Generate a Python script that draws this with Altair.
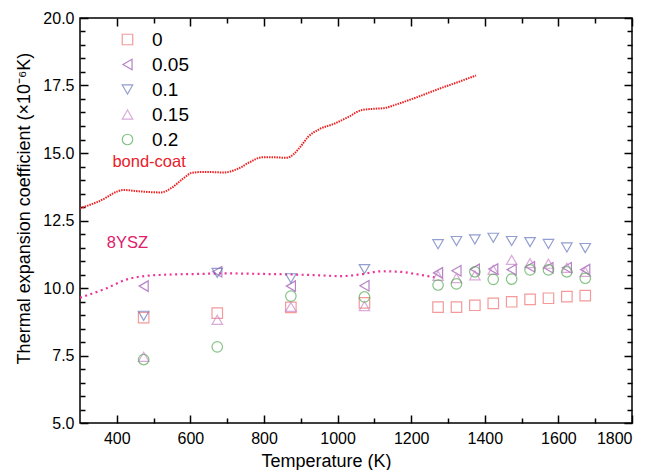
import altair as alt
import pandas as pd

# ---- data ----
temps = [473, 673, 873, 1073, 1273, 1323, 1373, 1423, 1473, 1523, 1573, 1623, 1673]
cte_0    = [8.90, 9.07, 9.28, 9.45, 9.29, 9.29, 9.36, 9.43, 9.49, 9.58, 9.62, 9.68, 9.72]
cte_005  = [10.07, 10.60, 10.07, 10.08, 10.56, 10.64, 10.69, 10.70, 10.68, 10.79, 10.75, 10.75, 10.68]
cte_01   = [8.97, 10.56, 10.36, 10.70, 11.62, 11.74, 11.80, 11.86, 11.74, 11.70, 11.63, 11.50, 11.48]
cte_015  = [7.45, 8.82, 9.30, 9.33, 10.45, 10.37, 10.47, 10.67, 11.04, 10.92, 10.90, 10.75, 10.60]
cte_02   = [7.35, 7.82, 9.70, 9.67, 10.11, 10.15, 10.60, 10.32, 10.33, 10.67, 10.67, 10.60, 10.36]

series_labels = ["0", "0.05", "0.1", "0.15", "0.2"]
series_colors = ["#f07070", "#9b4fb0", "#6677bb", "#cc88cc", "#55aa55"]
series_shapes = ["square", "triangle-left", "triangle-down", "triangle-up", "circle"]

bond_T = [300, 350, 420, 460, 520, 550, 580, 605, 640, 690, 730, 760, 795, 830, 860,
          880, 900, 920, 950, 990, 1030, 1066, 1100, 1125, 1160, 1220, 1280, 1330, 1376]
bond_cte = [12.95, 13.20, 13.63, 13.58, 13.54, 13.72, 14.05, 14.27, 14.30, 14.28, 14.42,
            14.65, 14.84, 14.84, 14.82, 14.95, 15.25, 15.60, 15.88, 16.08, 16.34, 16.59,
            16.64, 16.66, 16.80, 17.09, 17.40, 17.64, 17.87]

ysz_T = [300, 370, 430, 480, 550, 620, 700, 800, 880, 950, 1010, 1060, 1120, 1170, 1220, 1270]
ysz_cte = [9.64, 9.98, 10.33, 10.45, 10.50, 10.52, 10.54, 10.52, 10.50, 10.47, 10.44,
           10.50, 10.62, 10.60, 10.50, 10.38]

bond_label, bond_label_T, bond_label_cte = "bond-coat", 388, 14.68
ysz_label, ysz_label_T, ysz_label_cte = "8YSZ", 373, 11.68

x_labels = [400, 600, 800, 1000, 1200, 1400, 1600, 1800]
y_labels = [5.0, 7.5, 10.0, 12.5, 15.0, 17.5, 20.0]
x_minor = [500, 700, 900, 1100, 1300, 1500, 1700]
y_minor = [5.5, 6.0, 6.5, 7.0, 8.0, 8.5, 9.0, 9.5, 10.5, 11.0, 11.5, 12.0,
           13.0, 13.5, 14.0, 14.5, 15.5, 16.0, 16.5, 17.0, 18.0, 18.5, 19.0, 19.5]

X_MIN, X_MAX, Y_MIN, Y_MAX = 300, 1800, 5.0, 20.0
W, H = 552, 405
FONT = "Liberation Sans"

# ---- tables ----
pts_rows = []
for lab, vals in zip(series_labels, [cte_0, cte_005, cte_01, cte_015, cte_02]):
    for t, v in zip(temps, vals):
        pts_rows.append({"T": t, "CTE": v, "x": lab})
pts = pd.DataFrame(pts_rows)
bond = pd.DataFrame({"T": bond_T, "CTE": bond_cte})
ysz = pd.DataFrame({"T": ysz_T, "CTE": ysz_cte})
bond_txt = pd.DataFrame({"T": [bond_label_T], "CTE": [bond_label_cte], "label": [bond_label]})
ysz_txt = pd.DataFrame({"T": [ysz_label_T], "CTE": [ysz_label_cte], "label": [ysz_label]})

xs = alt.Scale(domain=[X_MIN, X_MAX], nice=False, zero=False)
ys = alt.Scale(domain=[Y_MIN, Y_MAX], nice=False, zero=False)

MAJOR = alt.ExprRef("-8")   # inward ticks
MINOR = alt.ExprRef("-5")
TW = 1.5

x_axis = alt.Axis(values=x_labels, format="d", ticks=True, tickSize=MAJOR, tickColor="black",
                  tickWidth=TW, domain=False, grid=False,
                  labelFontSize=16, labelFont=FONT, labelColor="black", labelPadding=15,
                  title="Temperature (K)", titleFontSize=18, titleFont=FONT,
                  titleFontWeight="normal", titleColor="black",
                  titleX=246, titleY=38, titleAlign="center", titleBaseline="middle")
y_axis = alt.Axis(values=y_labels, format=".1f", ticks=True, tickSize=MAJOR, tickColor="black",
                  tickWidth=TW, domain=False, grid=False,
                  labelFontSize=16, labelFont=FONT, labelColor="black", labelPadding=14,
                  title="Thermal expansion coefficient (×10⁻⁶K)", titleFontSize=18,
                  titleFont=FONT, titleFontWeight="normal", titleColor="black",
                  titleX=-56, titleY=190, titleAlign="center", titleBaseline="middle")


def tick_axis(orient, values, size):
    return alt.Axis(orient=orient, values=values, ticks=True, tickSize=size, tickColor="black",
                    tickWidth=TW, labels=False, domain=False, grid=False, title=None)


def enc(ax_x, ax_y):
    return dict(x=alt.X("T:Q", scale=xs, axis=ax_x), y=alt.Y("CTE:Q", scale=ys, axis=ax_y))


bond_line = alt.Chart(bond).mark_line(color="#ee2222", strokeWidth=2, strokeDash=[1.5, 1],
                                      interpolate="monotone").encode(
    **enc(tick_axis("top", x_labels, MAJOR), tick_axis("right", y_labels, MAJOR)))
ysz_line = alt.Chart(ysz).mark_line(color="#ee3399", strokeWidth=2.2, strokeDash=[2, 3.5],
                                    interpolate="monotone").encode(
    **enc(tick_axis("top", x_minor, MINOR), tick_axis("right", y_minor, MINOR)))

leg = alt.Legend(title=None, orient="none", legendX=38, legendY=12,
                 labelFontSize=19, labelFont=FONT, labelColor="black",
                 symbolSize=110, symbolStrokeWidth=1.2, rowPadding=5,
                 labelOffset=15, padding=0)
points = alt.Chart(pts).mark_point(filled=False, size=110, strokeWidth=1.2).encode(
    **enc(x_axis, y_axis),
    color=alt.Color("x:N", scale=alt.Scale(domain=series_labels, range=series_colors), legend=leg),
    shape=alt.Shape("x:N", scale=alt.Scale(domain=series_labels, range=series_shapes), legend=leg),
)

bond_text = alt.Chart(bond_txt).mark_text(align="left", baseline="middle", fontSize=16.5,
                                          font=FONT, color="#e8202a").encode(
    **enc(tick_axis("bottom", x_minor, MINOR), tick_axis("left", y_minor, MINOR)), text="label:N")
ysz_text = alt.Chart(ysz_txt).mark_text(align="left", baseline="middle", fontSize=16.5,
                                        font=FONT, color="#e0206a").encode(
    **enc(None, None), text="label:N")

chart = alt.layer(bond_line, ysz_line, points, bond_text, ysz_text).resolve_axis(
    x="independent", y="independent"
).properties(
    width=W, height=H, background="white",
    padding={"left": 7, "top": 2, "right": 5, "bottom": 0}
).configure_view(stroke="black", strokeWidth=1.5)

chart.save("out.html", embed_options={"renderer": "svg", "actions": False})
